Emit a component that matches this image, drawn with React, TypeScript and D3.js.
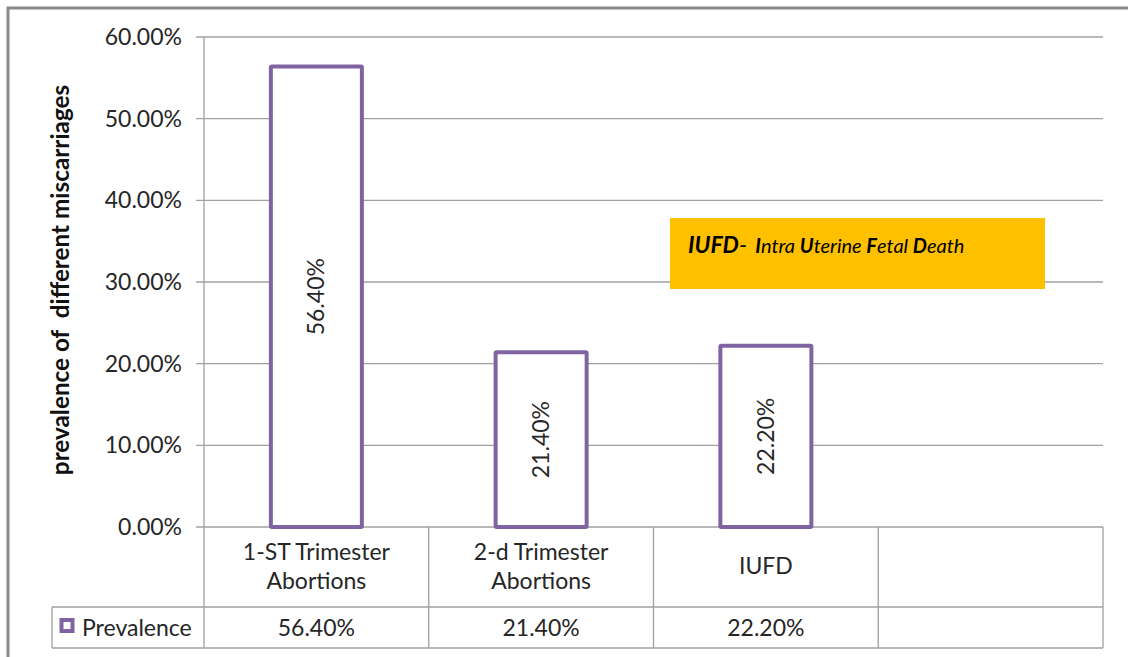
import React from "react";
import * as d3 from "d3";

// chart data
const categories = ["1-ST Trimester Abortions", "2-d Trimester Abortions", "IUFD", ""];
const categoryLines = [["1-ST Trimester", "Abortions"], ["2-d Trimester", "Abortions"], ["IUFD"], []];
const prevalence = [56.4, 21.4, 22.2];
const yTicks = [0, 10, 20, 30, 40, 50, 60];
const seriesName = "Prevalence";

const W = 1128;
const H = 657;
const plotLeft = 204;
const plotRight = 1103;
const plotTop = 37;
const plotBottom = 527;
const row1Bottom = 607;
const row2Bottom = 648;
const legendLeft = 52;

const purple = "#8064A2";
const grid = "#a0a0a0";
const textCol = "#262626";
const font = "Lato, 'Open Sans', sans-serif";
const fs = 23;

const fmt = (v: number) => v.toFixed(2) + "%";

export default function App() {
  const x = d3.scaleBand<string>().domain(categories).range([plotLeft, plotRight]).padding(0);
  const y = d3.scaleLinear().domain([0, 60]).range([plotBottom, plotTop]);
  const barW = x.bandwidth() * 0.405;

  return (
    <svg
      width={W}
      height={H}
      style={{ position: "absolute", left: 0, top: 0, background: "#fff" }}
      fontFamily={font}
    >
      {/* outer frame (cut off on right and bottom) */}
      <rect x={8} y={8} width={W + 10} height={H + 10} fill="#fff" stroke="#8a8a8a" strokeWidth={3} />

      {/* gridlines + ticks */}
      {yTicks.map((t) => (
        <g key={t}>
          <line x1={plotLeft - 8} x2={plotRight} y1={y(t)} y2={y(t)} stroke={grid} strokeWidth={1.3} />
          <text x={182} y={y(t)} dy="0.35em" textAnchor="end" fontSize={fs} fill={textCol}>
            {fmt(t)}
          </text>
        </g>
      ))}
      <line x1={plotLeft} x2={plotLeft} y1={plotTop} y2={row2Bottom} stroke={grid} strokeWidth={1.3} />

      {/* y axis title */}
      <text
        transform={`translate(69,${(plotTop + plotBottom) / 2 - 2}) rotate(-90)`}
        textAnchor="middle"
        fontSize={24.3}
        fontWeight="bold"
        fill="#111"
        style={{ whiteSpace: "pre" }}
      >
        {"prevalence of  different miscarriages"}
      </text>

      {/* bars */}
      {prevalence.map((v, i) => {
        const cx = (x(categories[i]) as number) + x.bandwidth() / 2;
        const top = y(v);
        return (
          <g key={i}>
            <rect
              x={cx - barW / 2}
              y={top}
              width={barW}
              height={plotBottom - top}
              fill="#fff"
              stroke={purple}
              strokeWidth={4}
              rx={1}
            />
            <text
              transform={`translate(${cx},${(top + plotBottom) / 2}) rotate(-90)`}
              textAnchor="middle"
              dy="0.35em"
              fontSize={fs}
              fill={textCol}
            >
              {v.toFixed(2) + "%"}
            </text>
          </g>
        );
      })}

      {/* data table */}
      <g stroke={grid} strokeWidth={1.3}>
        <line x1={legendLeft} x2={plotRight} y1={row1Bottom} y2={row1Bottom} />
        <line x1={legendLeft} x2={plotRight} y1={row2Bottom} y2={row2Bottom} />
        <line x1={legendLeft} x2={legendLeft} y1={row1Bottom} y2={row2Bottom} />
        {categories.map((c) => (
          <line
            key={"v" + c}
            x1={(x(c) as number) + x.bandwidth()}
            x2={(x(c) as number) + x.bandwidth()}
            y1={plotBottom}
            y2={row2Bottom}
          />
        ))}
      </g>
      {categories.map((c, i) => {
        const cx = (x(c) as number) + x.bandwidth() / 2;
        const lines = categoryLines[i];
        const mid = (plotBottom + row1Bottom) / 2 - 1;
        return (
          <g key={"c" + i}>
            {lines.map((l, j) => (
              <text
                key={j}
                x={cx}
                y={mid + (j - (lines.length - 1) / 2) * 29}
                dy="0.35em"
                textAnchor="middle"
                fontSize={fs}
                fill={textCol}
              >
                {l}
              </text>
            ))}
            {i < prevalence.length && (
              <text
                x={cx}
                y={(row1Bottom + row2Bottom) / 2}
                dy="0.35em"
                textAnchor="middle"
                fontSize={fs}
                fill={textCol}
              >
                {prevalence[i].toFixed(2) + "%"}
              </text>
            )}
          </g>
        );
      })}

      {/* legend key */}
      <rect x={61.5} y={620} width={11} height={11} fill="#fff" stroke={purple} strokeWidth={4} />
      <text x={82} y={(row1Bottom + row2Bottom) / 2} dy="0.35em" fontSize={fs} fill={textCol}>
        {seriesName}
      </text>

      {/* annotation box */}
      <rect x={670} y={218} width={375} height={71} fill="#FFC000" />
      <text x={688} y={253} fontStyle="italic" fill="#000">
        <tspan fontSize={23} fontWeight="bold">IUFD</tspan>
        <tspan fontSize={23}>- </tspan>
        <tspan fontSize={20} fontWeight="bold" dx={3}>I</tspan>
        <tspan fontSize={20}>ntra </tspan>
        <tspan fontSize={20} fontWeight="bold">U</tspan>
        <tspan fontSize={20}>terine </tspan>
        <tspan fontSize={20} fontWeight="bold">F</tspan>
        <tspan fontSize={20}>etal </tspan>
        <tspan fontSize={20} fontWeight="bold">D</tspan>
        <tspan fontSize={20}>eath</tspan>
      </text>
    </svg>
  );
}
